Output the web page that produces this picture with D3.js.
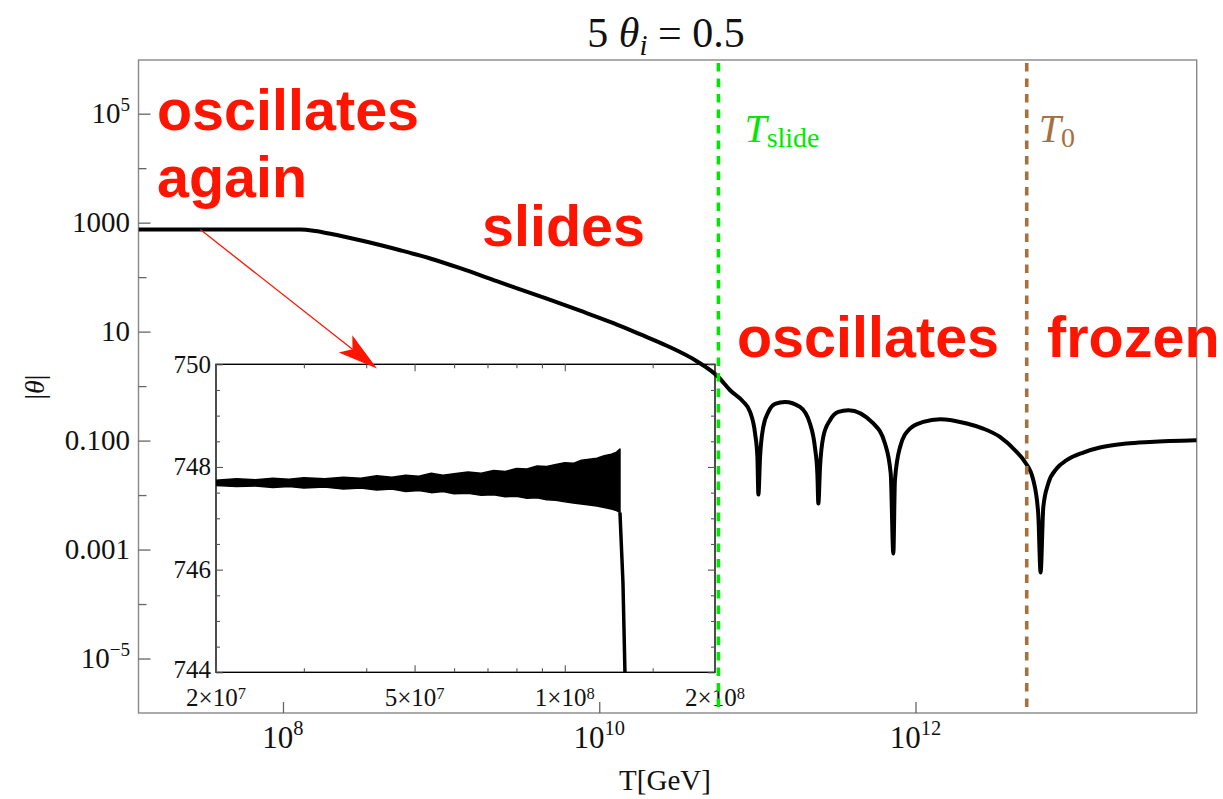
<!DOCTYPE html>
<html>
<head>
<meta charset="utf-8">
<script src="https://cdn.jsdelivr.net/npm/d3@7"></script>
<style>
  body { margin: 0; background: #fff; }
  text { font-family: "Liberation Serif", "Times New Roman", serif; fill: #111; }
  .red { font-family: "Liberation Sans", Arial, sans-serif; font-weight: bold; fill: #ff1400; font-size: 57.5px; }
</style>
</head>
<body>
<svg id="chart" width="1223" height="799"></svg>
<script>
// main curve |theta| against T (GeV)
const curveT = [1.22e7, 1.287e8, 1.60e8, 1.99e8, 3.23e8, 5.51e8, 8.53e8, 1.32e9, 2.25e9, 4.66e9,
  7.57e9, 1.23e10, 1.81e10, 2.675e10, 4.14e10,
  5.67e10, 6.72e10, 8.16e10, 8.99e10, 9.67e10, 1.0e11, 1.015e11, 1.04e11, 1.09e11, 1.174e11,
  1.294e11, 1.495e11, 1.859e11, 2.15e11, 2.31e11, 2.395e11, 2.43e11, 2.49e11, 2.61e11, 2.88e11,
  3.25e11, 3.76e11, 5.41e11, 6.41e11, 6.97e11, 7.24e11, 7.41e11, 7.99e11, 9.23e11, 1.12e12,
  1.43e12, 2.11e12, 2.68e12, 3.42e12, 4.36e12, 4.92e12, 5.56e12, 5.97e12, 6.18e12, 6.43e12,
  6.91e12, 7.81e12, 9.03e12, 1.15e13, 1.466e13, 2.16e13, 3.04e13, 6.0e13]
const curveTheta = [747.7, 747.7, 702, 626, 460, 312, 220, 145.8, 84.2, 40.2,
  24.2, 14.3, 8.96, 5.51, 2.86,
  1.47, 0.84, 0.513, 0.336, 0.135, 0.0501, 0.0102, 0.0501, 0.178, 0.336,
  0.471, 0.513, 0.415, 0.206, 0.0766, 0.0248, 0.0070, 0.0328, 0.117, 0.237,
  0.336, 0.361, 0.206, 0.0883, 0.0248, 0.000845, 0.0187, 0.0766, 0.166, 0.220,
  0.247, 0.206, 0.166, 0.117, 0.0619, 0.0406, 0.0187, 0.00458, 0.000379, 0.00605,
  0.0163, 0.0307, 0.0436, 0.0604, 0.0745, 0.0883, 0.0944, 0.1016]

// inset: envelope of the fast oscillation around 747.7
const insetT = [2.0e7, 2.2e7, 2.4e7, 2.6e7, 2.8e7, 3.0e7, 3.3e7, 3.6e7, 3.9e7, 4.2e7, 4.5e7, 4.8e7,
  5.1e7, 5.4e7, 5.7e7, 6.0e7, 6.4e7, 6.8e7, 7.2e7, 7.6e7, 8.0e7, 8.4e7, 8.8e7, 9.2e7, 9.6e7,
  1.0e8, 1.04e8, 1.08e8, 1.12e8, 1.16e8, 1.2e8, 1.24e8, 1.27e8, 1.29e8]
const insetUpper = [747.74, 747.77, 747.75, 747.78, 747.76, 747.79, 747.77, 747.80, 747.78, 747.83,
  747.80, 747.84, 747.82, 747.88, 747.84, 747.87, 747.90, 747.88, 747.93, 747.91, 747.97, 747.96,
  748.02, 748.01, 748.05, 748.08, 748.07, 748.13, 748.15, 748.17, 748.22, 748.25, 748.29, 748.35]
const insetLower = [747.64, 747.62, 747.63, 747.60, 747.62, 747.59, 747.61, 747.57, 747.59, 747.55,
  747.57, 747.52, 747.54, 747.50, 747.52, 747.48, 747.49, 747.45, 747.46, 747.42, 747.43, 747.39,
  747.40, 747.36, 747.35, 747.32, 747.30, 747.28, 747.26, 747.24, 747.21, 747.18, 747.15, 747.11]
const dropT = [1.29e8, 1.308e8, 1.32e8, 1.325e8]
const dropTheta = [747.11, 745.74, 744.0, 743.5]

const tSlide = 5.67e10
const tZero = 5.05e12

const xTicks = [1e8, 1e10, 1e12]
const xTickLabels = [["10", "8"], ["10", "10"], ["10", "12"]]
const yTicks = [1e5, 1e3, 1e1, 1e-1, 1e-3, 1e-5]
const yTickLabels = [["10", "5"], ["1000", ""], ["10", ""], ["0.100", ""], ["0.001", ""], ["10", "\u22125"]]
const yMinorTicks = [1e4, 1e2, 1, 1e-2, 1e-4]

const insetXTicks = [2e7, 5e7, 1e8, 2e8]
const insetXLabels = [["2\u00d710", "7"], ["5\u00d710", "7"], ["1\u00d710", "8"], ["2\u00d710", "8"]]
const insetXMinor = [3e7, 4e7, 6e7, 7e7, 8e7, 9e7, 1.5e8]
const insetYTicks = [744, 746, 748, 750]
const insetYMinor = [744.5, 745, 745.5, 746.5, 747, 747.5, 748.5, 749, 749.5]

// arrow from the plateau to the inset, in data units
const arrowFrom = [3.0e7, 747.7]
const arrowTo = [3.93e8, 2.1]

const svg = d3.select('#chart')

const mLeft = 138.5, mRight = 1196.7, mTop = 60, mBottom = 713
const x = d3.scaleLog().domain([1.22e7, 6.0e13]).range([mLeft, mRight])
const y = d3.scaleLog().domain([1e-6, 1e6]).range([mBottom, 59.2])

const iLeft = 216, iRight = 715, iTop = 364.3, iBottom = 672.3
const ix = d3.scaleLog().domain([2e7, 2e8]).range([iLeft, iRight])
const iy = d3.scaleLinear().domain([744, 750]).range([iBottom, iTop])

function supText (g, px, py, base, sup, anchor, size, raise) {
  const t = g.append('text')
    .attr('x', px).attr('y', py)
    .attr('text-anchor', anchor)
    .style('font-size', size + 'px')
  t.append('tspan').text(base)
  if (sup) {
    t.append('tspan')
      .attr('dy', -size * (raise || 0.42))
      .style('font-size', (size * 0.66) + 'px')
      .text(sup)
  }
  return t
}

const defs = svg.append('defs')
defs.append('clipPath').attr('id', 'mainclip')
  .append('rect').attr('x', mLeft).attr('y', mTop).attr('width', mRight - mLeft).attr('height', mBottom - mTop)
defs.append('clipPath').attr('id', 'insetclip')
  .append('rect').attr('x', iLeft).attr('y', iTop).attr('width', iRight - iLeft).attr('height', iBottom - iTop)

// main frame
svg.append('rect')
  .attr('x', mLeft).attr('y', mTop).attr('width', mRight - mLeft).attr('height', mBottom - mTop)
  .attr('fill', 'none').attr('stroke', '#888').attr('stroke-width', 1.4)

// main axes ticks (inside)
svg.append('g').attr('transform', `translate(${mLeft},0)`)
  .call(d3.axisLeft(y).tickValues(yTicks).tickSize(-12).tickFormat(''))
svg.append('g').attr('transform', `translate(${mLeft},0)`)
  .call(d3.axisLeft(y).tickValues(yMinorTicks).tickSize(-8).tickFormat(''))
svg.append('g').attr('transform', `translate(0,${mBottom})`)
  .call(d3.axisBottom(x).tickValues(xTicks).tickSize(-11).tickFormat(''))
svg.selectAll('.domain').remove()
svg.selectAll('.tick line').attr('stroke', '#666').attr('stroke-width', 1.3)

yTicks.forEach((v, i) => {
  supText(svg, 130, y(v) + 9.8, yTickLabels[i][0], yTickLabels[i][1], 'end', 29)
})
xTicks.forEach((v, i) => {
  supText(svg, x(v), 748, xTickLabels[i][0], xTickLabels[i][1], 'middle', 31)
})

// axis titles
svg.append('text').attr('x', 665).attr('y', 790).attr('text-anchor', 'middle')
  .style('font-size', '29px').text('T[GeV]')
const yl = svg.append('text').attr('transform', 'translate(44,387) rotate(-90)')
  .attr('text-anchor', 'middle').style('font-size', '28px')
yl.append('tspan').text('|')
yl.append('tspan').style('font-style', 'italic').text('\u03b8')
yl.append('tspan').text('|')

// title
const title = svg.append('text').attr('x', 666).attr('y', 47).attr('text-anchor', 'middle')
  .style('font-size', '42px')
title.append('tspan').text('5 ')
title.append('tspan').style('font-style', 'italic').text('\u03b8')
title.append('tspan').style('font-style', 'italic').style('font-size', '29px').attr('dy', 8).text('i')
title.append('tspan').attr('dy', -8).text(' = 0.5')

// inset
const inset = svg.append('g')
inset.append('rect')
  .attr('x', iLeft).attr('y', iTop).attr('width', iRight - iLeft).attr('height', iBottom - iTop)
  .attr('fill', 'none').attr('stroke', '#000').attr('stroke-width', 1.4)
inset.append('g').attr('transform', `translate(0,${iBottom})`)
  .call(d3.axisBottom(ix).tickValues(insetXTicks).tickSize(-7).tickFormat(''))
inset.append('g').attr('transform', `translate(0,${iBottom})`)
  .call(d3.axisBottom(ix).tickValues(insetXMinor).tickSize(-4).tickFormat(''))
inset.append('g').attr('transform', `translate(0,${iTop})`)
  .call(d3.axisTop(ix).tickValues(insetXTicks).tickSize(-7).tickFormat(''))
inset.append('g').attr('transform', `translate(0,${iTop})`)
  .call(d3.axisTop(ix).tickValues(insetXMinor).tickSize(-4).tickFormat(''))
inset.append('g').attr('transform', `translate(${iLeft},0)`)
  .call(d3.axisLeft(iy).tickValues(insetYTicks).tickSize(-7).tickFormat(''))
inset.append('g').attr('transform', `translate(${iLeft},0)`)
  .call(d3.axisLeft(iy).tickValues(insetYMinor).tickSize(-4).tickFormat(''))
inset.append('g').attr('transform', `translate(${iRight},0)`)
  .call(d3.axisRight(iy).tickValues(insetYTicks).tickSize(-7).tickFormat(''))
inset.append('g').attr('transform', `translate(${iRight},0)`)
  .call(d3.axisRight(iy).tickValues(insetYMinor).tickSize(-4).tickFormat(''))
inset.selectAll('.domain').remove()
inset.selectAll('.tick line').attr('stroke', '#555').attr('stroke-width', 1.1)

insetYTicks.forEach(v => {
  // the bottom label sits a touch higher so it clears the x labels below it
  const shift = v === 744 ? 6 : 8.5
  inset.append('text').attr('x', 211).attr('y', iy(v) + shift).attr('text-anchor', 'end')
    .style('font-size', '25px').text(v)
})
insetXTicks.forEach((v, i) => {
  supText(inset, ix(v), 706, insetXLabels[i][0], insetXLabels[i][1], 'middle', 25, 0.3)
})

const band = insetT.map((t, i) => [t, insetLower[i], insetUpper[i]])
inset.append('path')
  .datum(band)
  .attr('clip-path', 'url(#insetclip)')
  .attr('fill', '#000').attr('stroke', '#000').attr('stroke-width', 1.5)
  .attr('stroke-linejoin', 'round')
  .attr('d', d3.area().x(d => ix(d[0])).y0(d => iy(d[1])).y1(d => iy(d[2])))
inset.append('path')
  .datum(dropT.map((t, i) => [t, dropTheta[i]]))
  .attr('clip-path', 'url(#insetclip)')
  .attr('fill', 'none').attr('stroke', '#000').attr('stroke-width', 3.5)
  .attr('d', d3.line().x(d => ix(d[0])).y(d => iy(d[1])))

// main curve
svg.append('path')
  .datum(curveT.map((t, i) => [t, curveTheta[i]]))
  .attr('clip-path', 'url(#mainclip)')
  .attr('fill', 'none').attr('stroke', '#000').attr('stroke-width', 4)
  .attr('stroke-linejoin', 'round')
  .attr('d', d3.line().x(d => x(d[0])).y(d => y(d[1])).curve(d3.curveMonotoneX))

// vertical markers
svg.append('line')
  .attr('x1', x(tSlide)).attr('x2', x(tSlide)).attr('y1', mTop + 3).attr('y2', mBottom)
  .attr('stroke', '#00e800').attr('stroke-width', 3.6).attr('stroke-dasharray', '8.5,7')
svg.append('line')
  .attr('x1', x(tZero)).attr('x2', x(tZero)).attr('y1', mTop + 3).attr('y2', mBottom)
  .attr('stroke', '#a4713f').attr('stroke-width', 3.6).attr('stroke-dasharray', '8.5,7')

const ts = svg.append('text').attr('x', x(tSlide) + 26).attr('y', 142).style('fill', '#00e800')
ts.append('tspan').style('font-style', 'italic').style('font-size', '40px').text('T')
ts.append('tspan').attr('dy', 5).style('font-size', '28px').text('slide')
const t0 = svg.append('text').attr('x', x(tZero) + 12).attr('y', 142).style('fill', '#a4713f')
t0.append('tspan').style('font-style', 'italic').style('font-size', '40px').text('T')
t0.append('tspan').attr('dy', 5).style('font-size', '28px').text('0')

// phase labels
svg.append('text').attr('class', 'red').attr('x', 157).attr('y', 130).text('oscillates')
svg.append('text').attr('class', 'red').attr('x', 157).attr('y', 197).text('again')
svg.append('text').attr('class', 'red').attr('x', 482).attr('y', 246).text('slides')
svg.append('text').attr('class', 'red').attr('x', 737).attr('y', 357).text('oscillates')
svg.append('text').attr('class', 'red').attr('x', 1047).attr('y', 357).text('frozen')

// arrow
const a0 = [x(arrowFrom[0]), y(arrowFrom[1])]
const a1 = [x(arrowTo[0]), y(arrowTo[1])]
const len = Math.hypot(a1[0] - a0[0], a1[1] - a0[1])
const ux = (a1[0] - a0[0]) / len, uy = (a1[1] - a0[1]) / len
const headLen = 40, headW = 11
const back = [a1[0] - ux * headLen, a1[1] - uy * headLen]
const notch = [a1[0] - ux * headLen * 0.78, a1[1] - uy * headLen * 0.78]
svg.append('line')
  .attr('x1', a0[0]).attr('y1', a0[1]).attr('x2', notch[0]).attr('y2', notch[1])
  .attr('stroke', '#ff1400').attr('stroke-width', 1.3)
svg.append('path')
  .attr('fill', '#ff1400')
  .attr('d', 'M' + a1[0] + ',' + a1[1] +
    'L' + (back[0] - uy * headW) + ',' + (back[1] + ux * headW) +
    'L' + notch[0] + ',' + notch[1] +
    'L' + (back[0] + uy * headW) + ',' + (back[1] - ux * headW) + 'Z')
</script>
</body>
</html>
